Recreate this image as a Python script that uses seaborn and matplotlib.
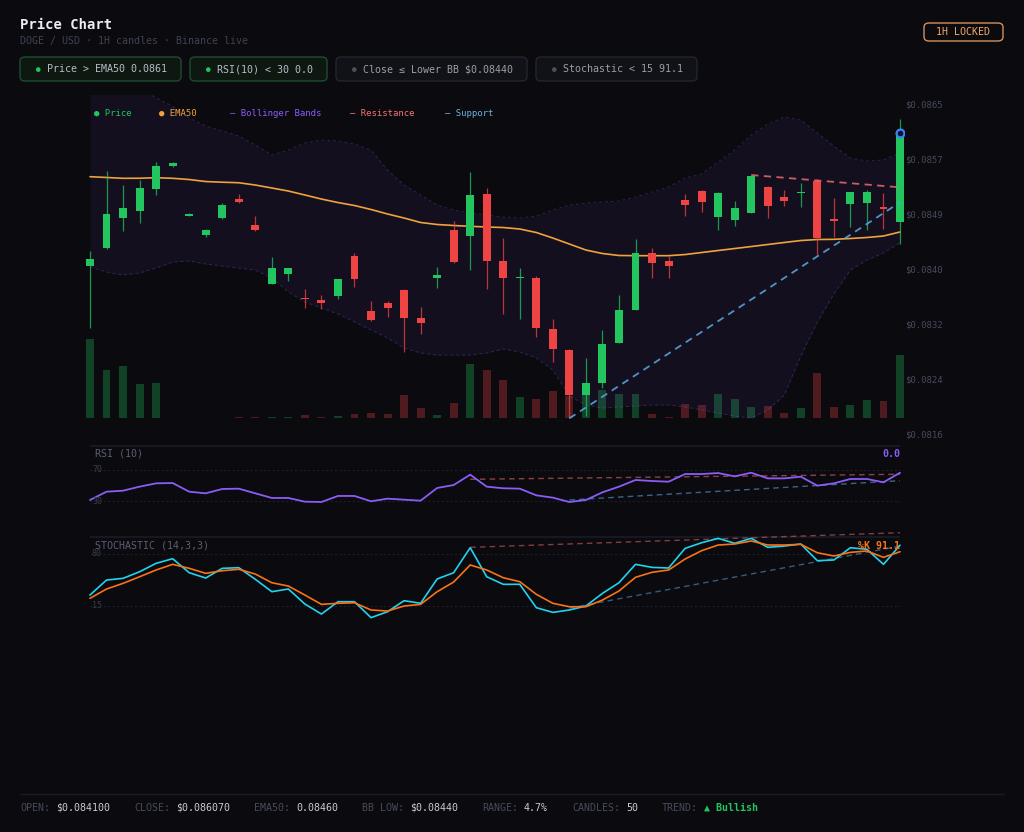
import numpy as np
import matplotlib
matplotlib.use("Agg")
import matplotlib.pyplot as plt
from matplotlib.patches import FancyBboxPatch
import seaborn as sns

# DOGE / USD, 1H candles (USD)
opens = [0.084100, 0.084366, 0.084807, 0.084907, 0.085233, 0.085584, 0.084837, 0.084550, 0.084807, 0.085094,
         0.084708, 0.083832, 0.083971, 0.083619, 0.083590, 0.083654, 0.084248, 0.083431, 0.083550, 0.083738,
         0.083318, 0.083916, 0.084629, 0.084545, 0.085159, 0.084169, 0.083912, 0.083921, 0.083164, 0.082847,
         0.082179, 0.082353, 0.082956, 0.083441, 0.084283, 0.084164, 0.085070, 0.085208, 0.084818, 0.084778,
         0.084886, 0.085272, 0.085119, 0.085174, 0.085361, 0.084788, 0.085020, 0.085026, 0.084966, 0.084748]
highs = [0.084322, 0.085510, 0.085293, 0.085372, 0.085643, 0.085639, 0.084886, 0.084644, 0.085034, 0.085159,
         0.084833, 0.084224, 0.084064, 0.083753, 0.083668, 0.083909, 0.084283, 0.083579, 0.083579, 0.083758,
         0.083481, 0.084075, 0.084767, 0.085495, 0.085248, 0.084506, 0.084060, 0.083946, 0.083312, 0.082855,
         0.082724, 0.083144, 0.083668, 0.084496, 0.084362, 0.084248, 0.085168, 0.085216, 0.085193, 0.085060,
         0.085438, 0.085279, 0.085223, 0.085323, 0.085382, 0.085100, 0.085193, 0.085223, 0.085174, 0.086273]
lows = [0.083170, 0.084343, 0.084619, 0.084738, 0.085149, 0.085572, 0.084830, 0.084530, 0.084800, 0.085037,
        0.084617, 0.083827, 0.083872, 0.083467, 0.083456, 0.083600, 0.083787, 0.083285, 0.083342, 0.082822,
        0.083085, 0.083772, 0.084135, 0.084035, 0.083749, 0.083382, 0.083303, 0.083036, 0.082674, 0.081833,
        0.081867, 0.082279, 0.082951, 0.083434, 0.083921, 0.083921, 0.084833, 0.084901, 0.084625, 0.084689,
        0.084882, 0.084803, 0.084990, 0.084966, 0.084258, 0.084530, 0.084669, 0.084629, 0.084644, 0.084421]
closes = [0.084194, 0.084867, 0.084956, 0.085253, 0.085579, 0.085624, 0.084859, 0.084634, 0.084996, 0.085045,
          0.084625, 0.084069, 0.084060, 0.083600, 0.083550, 0.083902, 0.083906, 0.083293, 0.083467, 0.083323,
          0.083244, 0.083957, 0.084158, 0.085149, 0.084173, 0.083921, 0.083931, 0.083170, 0.082867, 0.082175,
          0.082353, 0.082936, 0.083437, 0.084283, 0.084135, 0.084095, 0.085000, 0.085040, 0.085179, 0.084956,
          0.085431, 0.084990, 0.085064, 0.085189, 0.084506, 0.084758, 0.085189, 0.085198, 0.084945, 0.086070]
volumes_m = [7.9, 4.8, 5.2, 3.4, 3.5, 0.05, 0.05, 0.05, 0.05, 0.15,
             0.15, 0.1, 0.12, 0.3, 0.1, 0.23, 0.4, 0.57, 0.4, 2.33,
             1.07, 0.33, 1.5, 5.4, 4.83, 3.83, 2.1, 1.97, 2.77, 2.23,
             2.3, 2.83, 2.43, 2.43, 0.4, 0.17, 1.43, 1.33, 2.43, 1.97,
             1.1, 1.23, 0.5, 1.0, 4.5, 1.17, 1.33, 1.83, 1.73, 6.33]
ema50 = [0.085421, 0.085409, 0.085397, 0.085398, 0.085406, 0.085397, 0.085379, 0.085349, 0.085339, 0.085331,
         0.085297, 0.085253, 0.085208, 0.085149, 0.085089, 0.085037, 0.084993, 0.084934, 0.084867, 0.084807,
         0.084741, 0.084711, 0.084696, 0.084684, 0.084674, 0.084666, 0.084644, 0.084592, 0.084510, 0.084421,
         0.084332, 0.084280, 0.084251, 0.084248, 0.084248, 0.084248, 0.084265, 0.084295, 0.084325, 0.084354,
         0.084384, 0.084414, 0.084444, 0.084473, 0.084488, 0.084491, 0.084503, 0.084518, 0.084540, 0.084600]
bb_upper = [0.086782, 0.086782, 0.086767, 0.086738, 0.086589, 0.086470, 0.086292, 0.086173, 0.086099, 0.086025,
            0.085891, 0.085743, 0.085817, 0.085921, 0.085965, 0.085951, 0.085906, 0.085817, 0.085520, 0.085297,
            0.085149, 0.085000, 0.084926, 0.084882, 0.084852, 0.084822, 0.084807, 0.084837, 0.084926, 0.085000,
            0.085030, 0.085045, 0.085060, 0.085119, 0.085193, 0.085268, 0.085401, 0.085461, 0.085639, 0.085817,
            0.086040, 0.086203, 0.086307, 0.086262, 0.086069, 0.085876, 0.085698, 0.085654, 0.085669, 0.085772]
bb_lower = [0.084080, 0.084006, 0.083961, 0.083991, 0.084065, 0.084154, 0.084169, 0.084124, 0.084095, 0.084065,
            0.084035, 0.083916, 0.083709, 0.083560, 0.083471, 0.083382, 0.083263, 0.083144, 0.083026, 0.082877,
            0.082803, 0.082773, 0.082773, 0.082773, 0.082803, 0.082862, 0.082818, 0.082729, 0.082550, 0.082164,
            0.082031, 0.081986, 0.082001, 0.082016, 0.082031, 0.082031, 0.082001, 0.081957, 0.081912, 0.081867,
            0.081838, 0.081957, 0.082179, 0.082758, 0.083263, 0.083679, 0.084035, 0.084184, 0.084288, 0.084440]
rsi10 = [31.3, 42.0, 43.3, 48.5, 52.8, 53.2, 42.0, 39.9, 45.5, 45.9,
         39.9, 33.9, 33.9, 29.1, 28.7, 36.5, 36.5, 29.6, 33.0, 31.7,
         30.4, 46.8, 50.6, 64.0, 48.5, 46.4, 45.9, 37.3, 34.3, 28.7,
         31.3, 41.2, 48.5, 57.1, 55.8, 54.9, 64.8, 64.8, 66.1, 61.8,
         66.5, 59.2, 59.2, 61.4, 49.8, 52.8, 58.4, 58.4, 54.1, 66.5]
stoch_k = [28.4, 47.3, 49.4, 57.7, 68.3, 74.1, 56.5, 49.8, 62.0, 62.8,
           48.2, 32.6, 36.0, 17.1, 4.5, 20.0, 20.0, 0.0, 7.4, 21.3,
           18.0, 48.6, 56.5, 87.9, 51.4, 41.9, 41.9, 12.5, 6.6, 9.6,
           14.6, 30.5, 43.9, 67.0, 63.2, 62.4, 87.1, 94.2, 99.7, 93.5,
           99.7, 88.4, 90.0, 92.6, 71.6, 72.5, 87.9, 85.9, 67.0, 91.1]
stoch_d = [24.3, 36.0, 43.1, 51.4, 59.9, 67.0, 62.0, 55.7, 59.0, 60.8,
           54.8, 43.9, 39.7, 28.4, 16.7, 18.0, 18.7, 9.6, 8.3, 14.6,
           16.7, 32.6, 44.8, 66.2, 59.9, 50.2, 45.2, 29.3, 18.0, 13.7,
           13.7, 22.1, 33.5, 50.7, 57.0, 59.9, 73.7, 84.2, 91.3, 92.6,
           96.4, 91.3, 91.3, 92.2, 81.6, 77.5, 82.1, 83.8, 75.8, 82.9]

# trend lines (candle index, value)
price_res_idx, price_res = [40, 49], [0.085446, 0.085263]
price_sup_idx, price_sup = [29, 49], [0.081833, 0.085040]
rsi_res_idx, rsi_res = [23, 49], [58.0, 64.5]
rsi_sup_idx, rsi_sup = [29, 49], [31.3, 56.2]
stoch_res_idx, stoch_res = [23, 49], [88.4, 106.8]
stoch_sup_idx, stoch_sup = [29, 49], [12.0, 90.0]

price_ticks = [0.0865, 0.085683, 0.084867, 0.08405, 0.083234, 0.082417, 0.0816]
price_tick_labels = ["$0.0865", "$0.0857", "$0.0849", "$0.0840", "$0.0832", "$0.0824", "$0.0816"]

chips = ["Price > EMA50 0.0861", "RSI(10) < 30 0.0", "Close \u2264 Lower BB $0.08440", "Stochastic < 15 91.1"]
chip_active = [True, True, False, False]
footer_labels = ["OPEN:", "CLOSE:", "EMA50:", "BB LOW:", "RANGE:", "CANDLES:", "TREND:"]
footer_values = ["$0.084100", "$0.086070", "0.08460", "$0.08440", "4.7%", "50", "\u25b2 Bullish"]

BG = "#0a0a0f"
GREEN = "#22c55e"
RED = "#ef4444"
ORANGE = "#f0a23c"
PURPLE = "#8b5cf6"
RED_L = "#f87171"
BLUE = "#56a3d9"
CYAN = "#22d3ee"
STOCH_D = "#f97316"
MUTED = "#464b5a"

W, H = 1024, 832

sns.set_theme(style="dark", rc={
    "figure.facecolor": BG, "axes.facecolor": BG, "savefig.facecolor": BG,
    "axes.edgecolor": BG, "text.color": "#c9ccd3",
})
plt.rcParams["font.family"] = ["DejaVu Sans Mono", "DejaVu Sans"]


def rect(left, top, right, bottom):
    return [left / W, 1 - bottom / H, (right - left) / W, (bottom - top) / H]


def ftext(x, y, s, **kw):
    kw.setdefault("va", "center")
    return fig.text(x / W, 1 - y / H, s, **kw)


def fbox(x0, y0, x1, y1, fc, ec, lw=1.0):
    fig.patches.append(FancyBboxPatch(
        (x0 / W, 1 - y1 / H), (x1 - x0) / W, (y1 - y0) / H,
        boxstyle="round,pad=0,rounding_size=0.005", transform=fig.transFigure,
        facecolor=fc, edgecolor=ec, linewidth=lw))


fig = plt.figure(figsize=(W / 100, H / 100), dpi=100)

idx = np.arange(len(closes))
o, h, l, c = map(np.array, (opens, highs, lows, closes))
up = c >= o
candle_colors = np.where(up, GREEN, RED)
xlim = (-0.363, 49.242)

# volume underneath the price layer
ax_vol = fig.add_axes(rect(84, 95, 904, 440))
ax_vol.bar(idx, volumes_m, width=0.48, color=candle_colors, alpha=0.3, linewidth=0)
ax_vol.set_xlim(xlim)
ax_vol.set_ylim(-2.17, 32.33)
ax_vol.set_xticks([])
ax_vol.set_yticks([])

ax = fig.add_axes(rect(84, 95, 904, 440))
ax.patch.set_alpha(0)
ax.fill_between(idx, bb_lower, bb_upper, color=PURPLE, alpha=0.07, linewidth=0)
for band in (bb_upper, bb_lower):
    ax.plot(idx, band, color=PURPLE, alpha=0.28, lw=0.7, ls=(0, (3, 3)))
sns.lineplot(x=idx, y=ema50, ax=ax, color=ORANGE, linewidth=1.2)
ax.vlines(idx, l, h, colors=candle_colors, linewidth=0.9, alpha=0.75)
ax.bar(idx, np.maximum(np.abs(c - o), 2.5e-5), bottom=np.minimum(o, c),
       width=0.48, color=candle_colors, linewidth=0, zorder=3)
ax.plot(price_res_idx, price_res, color=RED_L, alpha=0.8, lw=1.3, ls=(0, (4, 3)), zorder=4)
ax.plot(price_sup_idx, price_sup, color=BLUE, alpha=0.9, lw=1.3, ls=(0, (4, 3)), zorder=4)
ax.scatter([idx[-1]], [closes[-1]], s=32, facecolor="#0d1530", edgecolor="#3b82f6",
           linewidth=1.6, zorder=6)
ax.set_xlim(xlim)
ax.set_ylim(0.081511, 0.086634)
ax.set_xticks([])
ax.yaxis.tick_right()
ax.set_yticks(price_ticks)
ax.set_yticklabels(price_tick_labels)
ax.tick_params(axis="y", length=0, pad=0.5, labelsize=6.5, colors=MUTED)
ax.set_xlabel("")
ax.set_ylabel("")
for a in (ax, ax_vol):
    for sp in a.spines.values():
        sp.set_visible(False)

legend_items = [("\u25cf Price", GREEN, 94), ("\u25cf EMA50", ORANGE, 159),
                ("\u2013 Bollinger Bands", PURPLE, 230), ("\u2013 Resistance", RED_L, 350),
                ("\u2013 Support", "#6cb4e0", 445)]
for label, col, x in legend_items:
    ftext(x, 113, label, color=col, fontsize=6.5)

# RSI panel
ax_rsi = fig.add_axes(rect(84, 446, 904, 537))
ax_rsi.patch.set_alpha(0)
ax_rsi.hlines([70, 30], 0, 49, colors="#1d1e29", linewidth=0.8, linestyles=(0, (2, 2)))
ax_rsi.hlines(101, 0, 49, colors="#1a1b25", linewidth=1.2, clip_on=False)
ax_rsi.plot(rsi_res_idx, rsi_res, color=RED_L, alpha=0.55, lw=1.0, ls=(0, (4, 3)))
ax_rsi.plot(rsi_sup_idx, rsi_sup, color=BLUE, alpha=0.6, lw=1.0, ls=(0, (4, 3)))
sns.lineplot(x=idx, y=rsi10, ax=ax_rsi, color=PURPLE, linewidth=1.3)
ax_rsi.set_xlim(xlim)
ax_rsi.set_ylim(-16.5, 101)

# Stochastic panel
ax_st = fig.add_axes(rect(84, 537, 904, 629))
ax_st.patch.set_alpha(0)
ax_st.hlines([80, 15], 0, 49, colors="#1d1e29", linewidth=0.8, linestyles=(0, (2, 2)))
ax_st.hlines(101.4, 0, 49, colors="#1a1b25", linewidth=1.2, clip_on=False)
ax_st.plot(stoch_res_idx, stoch_res, color=RED_L, alpha=0.5, lw=1.0, ls=(0, (4, 3)), clip_on=False)
ax_st.plot(stoch_sup_idx, stoch_sup, color=BLUE, alpha=0.55, lw=1.0, ls=(0, (4, 3)))
sns.lineplot(x=idx, y=stoch_k, ax=ax_st, color=CYAN, linewidth=1.2)
sns.lineplot(x=idx, y=stoch_d, ax=ax_st, color=STOCH_D, linewidth=1.2)
ax_st.set_xlim(xlim)
ax_st.set_ylim(-14.3, 101.4)

for a in (ax_rsi, ax_st):
    a.set_xticks([])
    a.set_yticks([])
    a.set_xlabel("")
    a.set_ylabel("")
    for sp in a.spines.values():
        sp.set_visible(False)

ftext(95, 454, "RSI (10)", color="#5b6070", fontsize=7.2)
ftext(92, 470, "70", color="#3a3e4a", fontsize=6)
ftext(92, 501, "30", color="#3a3e4a", fontsize=6)
ftext(900, 454, "0.0", color=PURPLE, fontsize=7.2, fontweight="bold", ha="right")
ftext(95, 546, "STOCHASTIC (14,3,3)", color="#5b6070", fontsize=7.2)
ftext(92, 554, "80", color="#3a3e4a", fontsize=6)
ftext(92, 606, "15", color="#3a3e4a", fontsize=6)
ftext(900, 546, "%K 91.1", color=STOCH_D, fontsize=7.2, fontweight="bold", ha="right")

# header
ftext(20, 25, "Price Chart", color="#eceef2", fontsize=10, fontweight="bold")
ftext(20, 41, "DOGE / USD \u00b7 1H candles \u00b7 Binance live", color="#3f4452", fontsize=7.2)
fbox(924, 23, 1003, 41, BG, "#d4915a", lw=1.0)
ftext(963.5, 32, "1H LOCKED", color="#f0a868", fontsize=7.2, ha="center")

chip_bounds = [(20, 181), (190, 327), (336, 527), (536, 697)]
for label, active, (x0, x1) in zip(chips, chip_active, chip_bounds):
    if active:
        fbox(x0, 57, x1, 81, "#0d1811", "#1d4d2e")
        ftext(x0 + 18, 69.5, "\u25cf", color=GREEN, fontsize=5.5, ha="center")
        ftext(x0 + 27, 69, label, color="#b8bcc6", fontsize=7.2)
    else:
        fbox(x0, 57, x1, 81, "#111218", "#23252f")
        ftext(x0 + 18, 69.5, "\u25cf", color="#4b5060", fontsize=5.5, ha="center")
        ftext(x0 + 27, 69, label, color="#9a9ea8", fontsize=7.2)

# footer
fig.add_artist(plt.Line2D([20 / W, 1004 / W], [1 - 794 / H, 1 - 794 / H],
                          color="#1a1b24", linewidth=1))
footer_x = [20, 134, 254, 362, 482, 572, 662]
for lab, val, x in zip(footer_labels, footer_values, footer_x):
    ftext(x, 808, lab, color="#474c5a", fontsize=7.2)
    vx = x + (len(lab) + 1) * 6
    if lab == "TREND:":
        ftext(vx, 808, val, color=GREEN, fontsize=7.2, fontweight="bold")
    else:
        ftext(vx, 808, val, color="#c9ccd3", fontsize=7.2)

fig.savefig("out.png", dpi=100, facecolor=BG)
